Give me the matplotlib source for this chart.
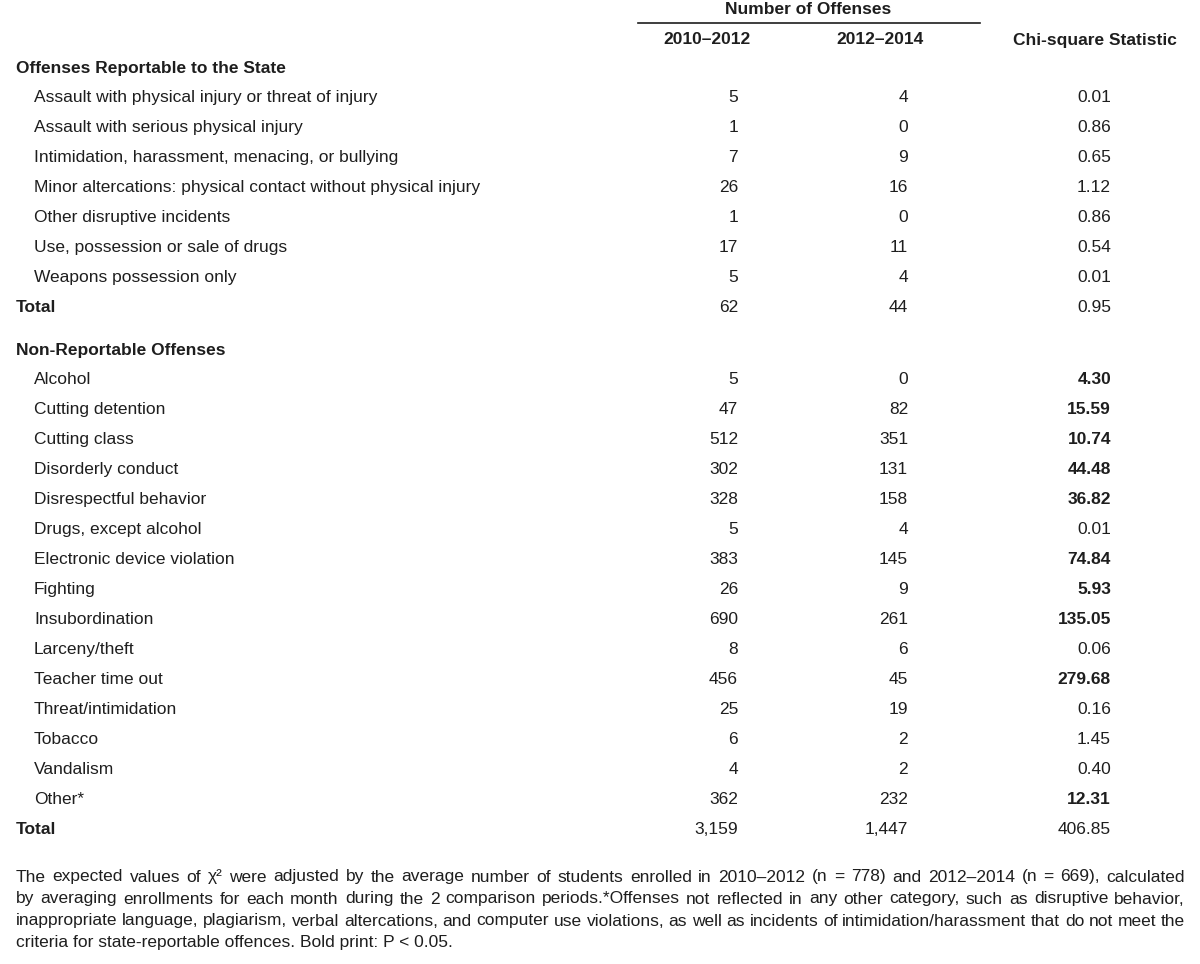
import matplotlib
matplotlib.use("Agg")
import matplotlib.pyplot as plt

plt.rcParams['font.family'] = ['Liberation Sans Narrow', 'Liberation Sans', 'DejaVu Sans']

# data
reportable = ["Assault with physical injury or threat of injury",
              "Assault with serious physical injury",
              "Intimidation, harassment, menacing, or bullying",
              "Minor altercations: physical contact without physical injury",
              "Other disruptive incidents",
              "Use, possession or sale of drugs",
              "Weapons possession only"]
rep_2010 = ["5", "1", "7", "26", "1", "17", "5"]
rep_2012 = ["4", "0", "9", "16", "0", "11", "4"]
rep_chi = ["0.01", "0.86", "0.65", "1.12", "0.86", "0.54", "0.01"]
rep_bold = [False] * 7
rep_total = ["62", "44", "0.95"]

nonrep = ["Alcohol", "Cutting detention", "Cutting class", "Disorderly conduct",
          "Disrespectful behavior", "Drugs, except alcohol", "Electronic device violation",
          "Fighting", "Insubordination", "Larceny/theft", "Teacher time out",
          "Threat/intimidation", "Tobacco", "Vandalism", "Other*"]
non_2010 = ["5", "47", "512", "302", "328", "5", "383", "26", "690", "8", "456",
            "25", "6", "4", "362"]
non_2012 = ["0", "82", "351", "131", "158", "4", "145", "9", "261", "6", "45",
            "19", "2", "2", "232"]
non_chi = ["4.30", "15.59", "10.74", "44.48", "36.82", "0.01", "74.84", "5.93",
           "135.05", "0.06", "279.68", "0.16", "1.45", "0.40", "12.31"]
non_bold = [True, True, True, True, True, False, True, True, True, False, True,
            False, False, False, True]
non_total = ["3,159", "1,447", "406.85"]

footnote_lines = [
    "The expected values of χ² were adjusted by the average number of students enrolled in "
    "2010–2012 (n = 778) and 2012–2014 (n = 669), calculated",
    "by averaging enrollments for each month during the 2 comparison periods.*Offenses not "
    "reflected in any other category, such as disruptive behavior,",
    "inappropriate language, plagiarism, verbal altercations, and computer use violations, "
    "as well as incidents of intimidation/harassment that do not meet the",
    "criteria for state-reportable offences. Bold print: P < 0.05.",
]

W, H = 1200, 964
fig = plt.figure(figsize=(W / 100, H / 100), dpi=100)
ax = fig.add_axes([0, 0, 1, 1])
ax.set_xlim(0, W)
ax.set_ylim(H, 0)
ax.axis('off')

fs = 12.5
fs_note = 12.5
col = '#1e1e1e'
x_lab, x_item = 16, 34
x_c1, x_c2, x_c3 = 738, 908, 1111


def txt(x, y, s, ha='left', bold=False, size=fs):
    return ax.text(x, y, s, ha=ha, va='center', fontsize=size, color=col,
                   fontweight='bold' if bold else 'normal')


# header
txt(808, 9, "Number of Offenses", ha='center', bold=True)
ax.plot([638, 980], [23, 23], color=col, lw=1.2)
txt(707, 40, "2010–2012", ha='center', bold=True)
txt(880, 40, "2012–2014", ha='center', bold=True)
txt(1095, 40, "Chi-square Statistic", ha='center', bold=True)


def section(y0, title, names, c1, c2, c3, bolds, total, step=29.95):
    txt(x_lab, y0, title, bold=True)
    y = y0
    for n, a, b, c, bd in zip(names, c1, c2, c3, bolds):
        y += step
        txt(x_item, y, n)
        txt(x_c1, y, a, ha='right')
        txt(x_c2, y, b, ha='right')
        txt(x_c3, y, c, ha='right', bold=bd)
    y += step
    txt(x_lab, y, "Total", bold=True)
    txt(x_c1, y, total[0], ha='right')
    txt(x_c2, y, total[1], ha='right')
    txt(x_c3, y, total[2], ha='right')


section(68, "Offenses Reportable to the State", reportable, rep_2010, rep_2012,
        rep_chi, rep_bold, rep_total)
section(350, "Non-Reportable Offenses", nonrep, non_2010, non_2012,
        non_chi, non_bold, non_total)

# justified footnote
fig.canvas.draw()
renderer = fig.canvas.get_renderer()
left, right = 16, 1185


def wwidth(w):
    t = ax.text(0, 0, w, fontsize=fs_note)
    wd = t.get_window_extent(renderer).width
    t.remove()
    return wd


y = 877
for i, line in enumerate(footnote_lines):
    if i == len(footnote_lines) - 1:
        txt(left, y, line, size=fs_note)
        break
    words = line.split(' ')
    widths = [wwidth(w) for w in words]
    gap = (right - left - sum(widths)) / (len(words) - 1)
    x = left
    for w, wd in zip(words, widths):
        txt(x, y, w, size=fs_note)
        x += wd + gap
    y += 22

fig.savefig("out.png", dpi=100, facecolor='white')
